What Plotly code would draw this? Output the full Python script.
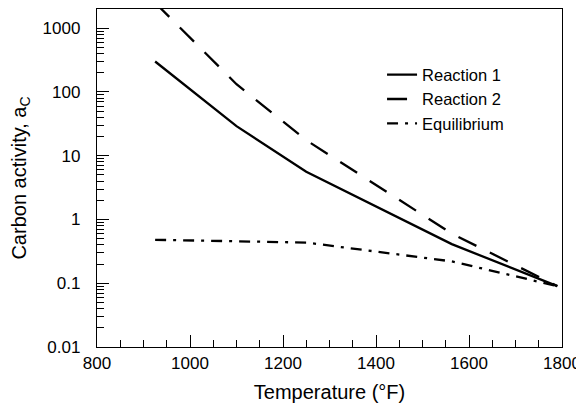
import plotly.graph_objects as go

temps = [925, 1100, 1250, 1563, 1790]
reaction1 = [300, 29, 5.6, 0.41, 0.09]
reaction2 = [2500, 132, 17.5, 0.6, 0.09]
equilibrium = [0.48, 0.46, 0.434, 0.22, 0.09]

series_names = ["Reaction 1", "Reaction 2", "Equilibrium"]
y_tick_vals = [0.01, 0.1, 1, 10, 100, 1000]
y_tick_text = ["0.01", "0.1", "1", "10", "100", "1000"]
x_tick_vals = [800, 1000, 1200, 1400, 1600, 1800]

FONT = "Liberation Sans, Arial, sans-serif"

fig = go.Figure()
styles = [("solid", reaction1), ("20px,15px", reaction2), ("11px,7px,3px,7px", equilibrium)]
for name, (dash, vals) in zip(series_names, styles):
    fig.add_trace(go.Scatter(x=temps, y=vals, mode="lines", name=name,
                             line=dict(color="black", width=2.3, dash=dash)))

y_minor = [k * 10.0 ** e for e in range(-2, 4) for k in range(2, 10) if k * 10.0 ** e <= 2000]
x_minor = list(range(850, 1800, 50))

# page body has an 8px default margin, so the figure is sized 576x404
fig.update_layout(
    width=576, height=404,
    margin=dict(l=89, r=22, t=1, b=65, autoexpand=False),
    paper_bgcolor="white", plot_bgcolor="white",
    font=dict(family=FONT, size=16.5, color="black"),
    showlegend=True,
    legend=dict(x=0.613, y=0.857, xanchor="left", yanchor="top",
                bgcolor="rgba(0,0,0,0)", font=dict(size=16.5), tracegroupgap=0),
    xaxis=dict(range=[800, 1800], tickvals=x_tick_vals, ticks="inside", ticklen=12,
               tickwidth=1.3, tickcolor="black", showline=True, linecolor="black",
               linewidth=1.3, mirror=True, showgrid=False, zeroline=False,
               automargin=False, ticklabelstandoff=0,
               minor=dict(tickvals=x_minor, ticks="inside", ticklen=7, tickwidth=1.3,
                          tickcolor="black", showgrid=False),
               title=dict(text="Temperature (°F)", standoff=13),
               tickfont=dict(size=17)),
    yaxis=dict(type="log", range=[-2, 3.3], tickvals=y_tick_vals, ticktext=y_tick_text,
               ticks="inside", ticklen=12, tickwidth=1.3, tickcolor="black",
               showline=True, linecolor="black", linewidth=1.3, mirror=True,
               showgrid=False, zeroline=False, automargin=False, ticklabelstandoff=12,
               minor=dict(tickvals=y_minor, ticks="inside", ticklen=7, tickwidth=1.3,
                          tickcolor="black", showgrid=False),
               title=dict(text="Carbon activity, a<sub>C</sub>", standoff=14),
               tickfont=dict(size=17)),
)

fig.write_html("out.html")
